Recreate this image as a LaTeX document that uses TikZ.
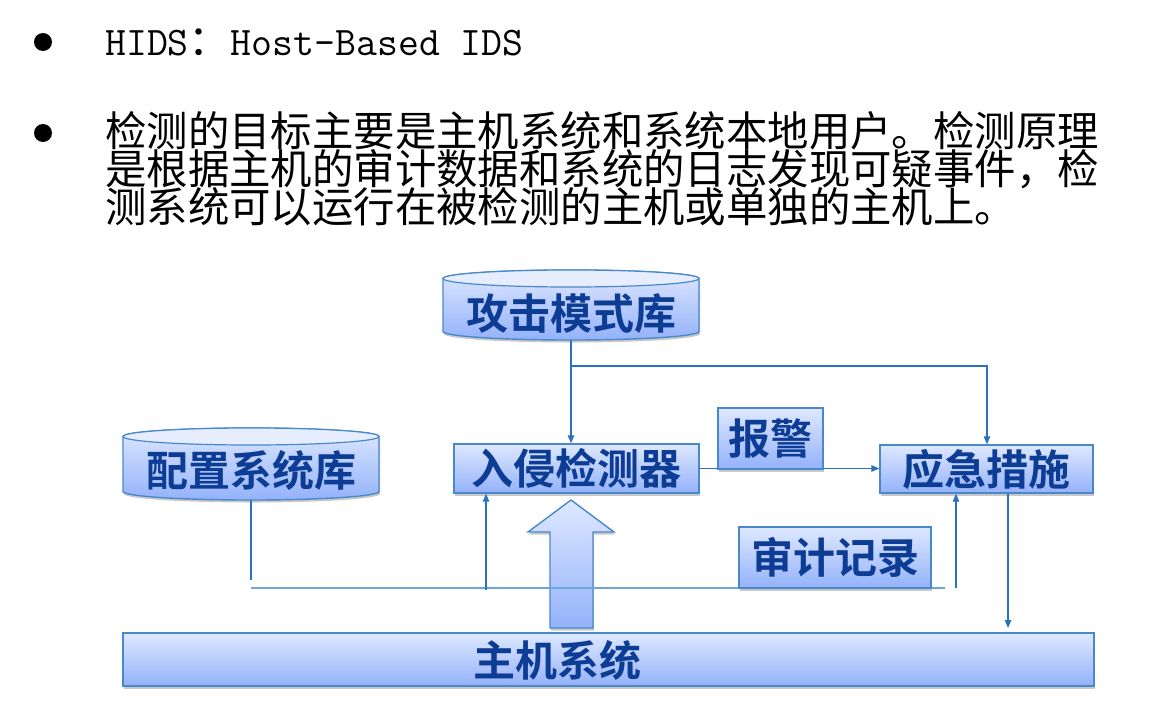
\documentclass[tikz,border=0pt]{standalone}
\usepackage{fontspec}
\newfontfamily\cjk{Noto Sans CJK SC}[BoldFont={Noto Sans CJK SC Bold}]
\usetikzlibrary{arrows.meta,shadows,calc}
\definecolor{boxtop}{HTML}{DEE8FF}
\definecolor{boxbot}{HTML}{94B2FA}
\definecolor{capfill}{HTML}{E6EDFF}
\definecolor{bordc}{HTML}{4A88CC}
\definecolor{txtc}{HTML}{0D3C95}
\definecolor{arrc}{HTML}{2A72BF}
\definecolor{hlnc}{HTML}{6FA6DA}
\tikzset{
  shad/.style={drop shadow={shadow xshift=1pt,shadow yshift=-2.5pt,opacity=0.3,fill=black!70}},
  boxlbl/.style={text=txtc,font=\cjk\bfseries\fontsize{42pt}{42pt}\selectfont,inner sep=0pt},
  box/.style={boxlbl,draw=bordc,line width=1.4pt,top color=boxtop,bottom color=boxbot,shad},
  cylbody/.style={draw=bordc,line width=1.4pt,top color=boxtop,bottom color=boxbot,shad},
  cyltop/.style={draw=bordc,line width=1.2pt,fill=capfill},
  arr/.style={draw=arrc,line width=1.3pt,-{Triangle[length=8pt,width=6.5pt]}},
  ln/.style={draw=arrc,line width=1.3pt},
  hln/.style={draw=hlnc,line width=1.5pt},
  bigarr/.style={draw=bordc,line width=1.4pt,top color=boxtop,bottom color=boxbot,shad},
  para/.style={anchor=base west,inner sep=0pt,font=\cjk\fontsize{41.4pt}{38pt}\selectfont},
  bul/.style={circle,fill=black,inner sep=0pt,minimum size=18pt}
}
\begin{document}
\begin{tikzpicture}[x=1pt,y=-1pt]
\useasboundingbox[fill=white] (0,0) rectangle (1158,715);
% header text
\node[bul] (b1) at (43,42) {};
\node[bul] (b2) at (43,133) {};
\node[anchor=base west,inner sep=0pt] (t1) at (105,55)
  {{\ttfamily\fontsize{40.6pt}{40.6pt}\selectfont HIDS}{\cjk\fontsize{42pt}{42pt}\selectfont ：}{\ttfamily\fontsize{40.6pt}{40.6pt}\selectfont Host-Based IDS}};
\node[para] (p1) at (105,146) {检测的目标主要是主机系统和系统本地用户。检测原理};
\node[para] (p2) at (105,184) {是根据主机的审计数据和系统的日志发现可疑事件，检};
\node[para] (p3) at (105,222) {测系统可以运行在被检测的主机或单独的主机上。};
% cylinders
\path[cylbody] (443,278.5) -- (443,331.5) arc[start angle=180,end angle=0,x radius=128,y radius=8.5]
  -- (699,278.5) arc[start angle=0,end angle=-180,x radius=128,y radius=8.5] -- cycle;
\path[cyltop] (571,278.5) ellipse[x radius=128,y radius=8.5];
\node[boxlbl,minimum width=256pt,minimum height=52pt] (atk) at (571,314) {攻击模式库};
\path[cylbody] (123,436.5) -- (123,491.5) arc[start angle=180,end angle=0,x radius=128,y radius=8.5]
  -- (379,436.5) arc[start angle=0,end angle=-180,x radius=128,y radius=8.5] -- cycle;
\path[cyltop] (251,436.5) ellipse[x radius=128,y radius=8.5];
\node[boxlbl,minimum width=256pt,minimum height=60pt] (cfg) at (251,470) {配置系统库};
% boxes
\node[box,minimum width=245pt,minimum height=49pt] (det) at (576.5,468.5) {入侵检测器};
\node[box,minimum width=213pt,minimum height=48pt] (resp) at (986.5,469) {应急措施};
\node[box,minimum width=971pt,minimum height=53pt] (host) at (608.5,659.5) {};
\node[boxlbl] (hostt) at (557,660) {主机系统};
% big hollow arrow
\path[bigarr] (571,500) -- (614,532) -- (593,532) -- (593,628) -- (550,628) -- (550,532) -- (528,532) -- cycle;
% connectors
\coordinate (br) at (571,366);
\coordinate (cfgend) at (251,580);
\coordinate (h1) at (251,588);
\coordinate (h2) at (945,588);
\coordinate (h3) at (486,590);
\coordinate (h4) at (956,588);
\coordinate (h5) at (1008,628);
\draw[arr] (atk.south) -- (atk.south |- det.north);
\draw[arr] (br) -| ([xshift=0.5pt]resp.north);
\draw[arr] (det.east) -- (det.east -| resp.west);
\draw[ln] (cfg.south) -- (cfgend);
\draw[hln] (h1) -- (h2);
\draw[arr] (h3) -- (h3 |- det.south);
\draw[arr] (h4) -- (h4 |- resp.south);
\draw[arr] (resp.south -| h5) -- (h5);
% label boxes
\node[box,minimum width=192pt,minimum height=61pt] (audit) at (835,557.5) {审计记录};
\node[box,minimum width=105pt,minimum height=61pt] (alarm) at (770.5,438.5) {报警};
\end{tikzpicture}
\end{document}
